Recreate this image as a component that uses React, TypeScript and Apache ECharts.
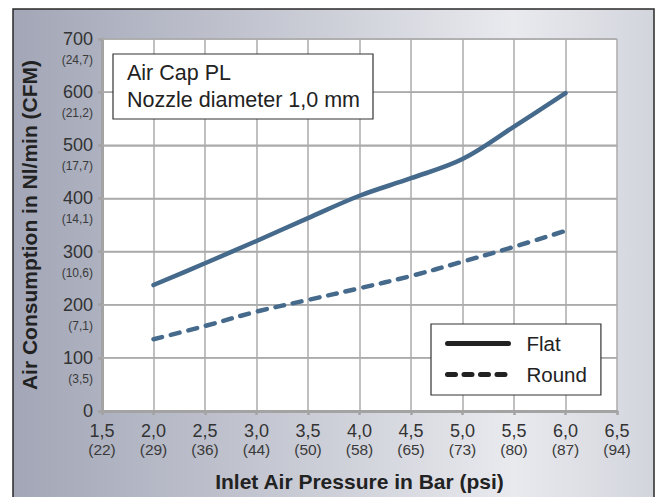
import React, { useEffect, useRef } from "react";
import * as echarts from "echarts";

const pressures = [2.0, 2.5, 3.0, 3.5, 4.0, 4.5, 5.0, 5.5, 6.0];
const flatValues = [237, 278, 320, 363, 405, 438, 474, 535, 598];
const roundValues = [135, 160, 187, 209, 231, 254, 281, 309, 339];

const barLabels = ["1,5", "2,0", "2,5", "3,0", "3,5", "4,0", "4,5", "5,0", "5,5", "6,0", "6,5"];
const psiLabels = ["(22)", "(29)", "(36)", "(44)", "(50)", "(58)", "(65)", "(73)", "(80)", "(87)", "(94)"];
const nlTicks = [0, 100, 200, 300, 400, 500, 600, 700];
const nlLabels = ["0", "100", "200", "300", "400", "500", "600", "700"];
const cfmLabels = ["", "(3,5)", "(7,1)", "(10,6)", "(14,1)", "(17,7)", "(21,2)", "(24,7)"];

const X_MIN = 1.5;
const X_MAX = 6.5;

const FONT = "'Liberation Sans', Arial, Helvetica, sans-serif";
const LINE_COLOR = "#456a8c";
const GRID_COLOR = "#ababab";

const W = 659;
const H = 497;
const GRID = { left: 102, top: 39, right: 42, bottom: 86 };

export default function App() {
  const ref = useRef<HTMLDivElement>(null);

  useEffect(() => {
    if (!ref.current) return;
    const chart = echarts.init(ref.current, undefined, { renderer: "svg" });

    const flatData = pressures.map((p, i) => [p, flatValues[i]]);
    const roundData = pressures.map((p, i) => [p, roundValues[i]]);

    const axisCommon = {
      axisLine: { show: true, onZero: false, lineStyle: { color: "#a3a3a3", width: 3 } },
      axisTick: { show: true, length: 4, lineStyle: { color: "#a3a3a3", width: 2.5 } },
      splitLine: { show: true, lineStyle: { color: GRID_COLOR, width: 1.5 } },
    };

    const gridSeries = nlTicks
      .filter((t) => t > 0)
      .map((t) => ({
        name: `grid-${t}`,
        type: "line",
        data: [
          [X_MIN, t],
          [X_MAX, t],
        ],
        symbol: "none",
        showSymbol: false,
        silent: true,
        z: 1,
        lineStyle: { color: GRID_COLOR, width: 1.5, type: "solid" },
        itemStyle: { color: GRID_COLOR },
        emphasis: { disabled: true },
        tooltip: { show: false },
      }));

    const option: any = {
      animation: false,
      textStyle: { fontFamily: FONT },
      grid: { ...GRID, show: false },
      graphic: [
        {
          type: "rect",
          z: -10,
          silent: true,
          shape: { x: 13, y: 9, width: 641, height: 500 },
          style: {
            fill: new echarts.graphic.LinearGradient(0, 0, 1, 0, [
              { offset: 0, color: "#a2a6b6" },
              { offset: 0.45, color: "#c9cbd5" },
              { offset: 0.78, color: "#e9eaee" },
              { offset: 1, color: "#d3d5dd" },
            ]),
            stroke: "#2a2a2a",
            lineWidth: 1.5,
          },
        },
        {
          type: "rect",
          z: -5,
          silent: true,
          shape: {
            x: GRID.left,
            y: GRID.top,
            width: W - GRID.left - GRID.right,
            height: H - GRID.top - GRID.bottom,
          },
          style: { fill: "#ffffff" },
        },
        {
          type: "group",
          z: 100,
          children: [
            {
              type: "rect",
              z: 100,
              shape: { x: 113, y: 54, width: 260, height: 65 },
              style: { fill: "#ffffff", stroke: "#333333", lineWidth: 1.2 },
            },
            {
              type: "text",
              z: 101,
              x: 127,
              y: 59.5,
              style: {
                text: "Air Cap PL\nNozzle diameter 1,0 mm",
                font: `21.5px ${FONT}`,
                fill: "#222222",
                lineHeight: 27,
                textVerticalAlign: "top",
              },
            },
          ],
        },
      ],
      legend: {
        orient: "vertical",
        left: 431,
        top: 324,
        padding: [9, 14, 10, 14],
        itemWidth: 61,
        itemHeight: 20,
        itemGap: 10,
        backgroundColor: "#ffffff",
        borderColor: "#333333",
        borderWidth: 1.2,
        borderRadius: 0,
        z: 50,
        textStyle: {
          fontSize: 20.5,
          lineHeight: 20,
          color: "#222222",
          fontFamily: FONT,
          padding: [0, 0, 0, 13],
        },
        data: [
          {
            name: "Flat",
            itemStyle: { color: "rgba(0,0,0,0)", opacity: 0, borderWidth: 0 },
            lineStyle: { color: "#222222", width: 5, type: "solid", cap: "round" },
          },
          {
            name: "Round",
            itemStyle: { color: "rgba(0,0,0,0)", opacity: 0, borderWidth: 0 },
            lineStyle: { color: "#222222", width: 5, type: [8, 8.5], cap: "round" },
          },
        ],
      },
      xAxis: {
        type: "value",
        min: X_MIN,
        max: X_MAX,
        interval: 0.5,
        name: "Inlet Air Pressure in Bar (psi)",
        nameLocation: "middle",
        nameGap: 60,
        nameTextStyle: { fontSize: 21, fontWeight: "bold", color: "#222222", fontFamily: FONT },
        ...axisCommon,
        axisLabel: {
          margin: 10,
          showMinLabel: true,
          showMaxLabel: true,
          hideOverlap: false,
          formatter: (v: number) => {
            const i = Math.round((v - X_MIN) / 0.5);
            return `{a|${barLabels[i]}}\n{b|${psiLabels[i]}}`;
          },
          rich: {
            a: { fontSize: 18, lineHeight: 19, color: "#333333", fontFamily: FONT, align: "center" },
            b: { fontSize: 15.5, lineHeight: 18, color: "#3a3a3a", fontFamily: FONT, align: "center" },
          },
        },
      },
      yAxis: {
        type: "value",
        min: 0,
        max: 700,
        interval: 100,
        name: "Air Consumption in Nl/min (CFM)",
        nameLocation: "middle",
        nameGap: 62,
        nameRotate: 90,
        nameTextStyle: { fontSize: 21, fontWeight: "bold", color: "#222222", fontFamily: FONT },
        ...axisCommon,
        axisLabel: {
          margin: 9,
          showMinLabel: true,
          showMaxLabel: true,
          hideOverlap: false,
          formatter: (v: number) => {
            const i = Math.round(v / 100);
            if (!cfmLabels[i]) return `{a|${nlLabels[i]}}`;
            return `{s| }\n{a|${nlLabels[i]}}\n{b|${cfmLabels[i]}}`;
          },
          rich: {
            s: { fontSize: 10, lineHeight: 10, fontFamily: FONT },
            a: { fontSize: 18, lineHeight: 32, color: "#333333", fontFamily: FONT },
            b: { fontSize: 12, lineHeight: 10, color: "#3a3a3a", fontFamily: FONT },
          },
        },
      },
      series: [
        ...gridSeries,
        {
          name: "Flat",
          type: "line",
          smooth: 0.35,
          symbol: "none",
          z: 10,
          data: flatData,
          lineStyle: { color: LINE_COLOR, width: 4.5, type: "solid", cap: "round" },
          itemStyle: { color: LINE_COLOR },
        },
        {
          name: "Round",
          type: "line",
          smooth: 0.35,
          symbol: "none",
          z: 10,
          data: roundData,
          lineStyle: { color: LINE_COLOR, width: 4.5, type: [9, 9], cap: "round" },
          itemStyle: { color: LINE_COLOR },
        },
      ],
    };

    chart.setOption(option);
    return () => chart.dispose();
  }, []);

  return (
    <div
      ref={ref}
      style={{ position: "fixed", left: 0, top: 0, width: W, height: H, background: "#ffffff" }}
    />
  );
}
